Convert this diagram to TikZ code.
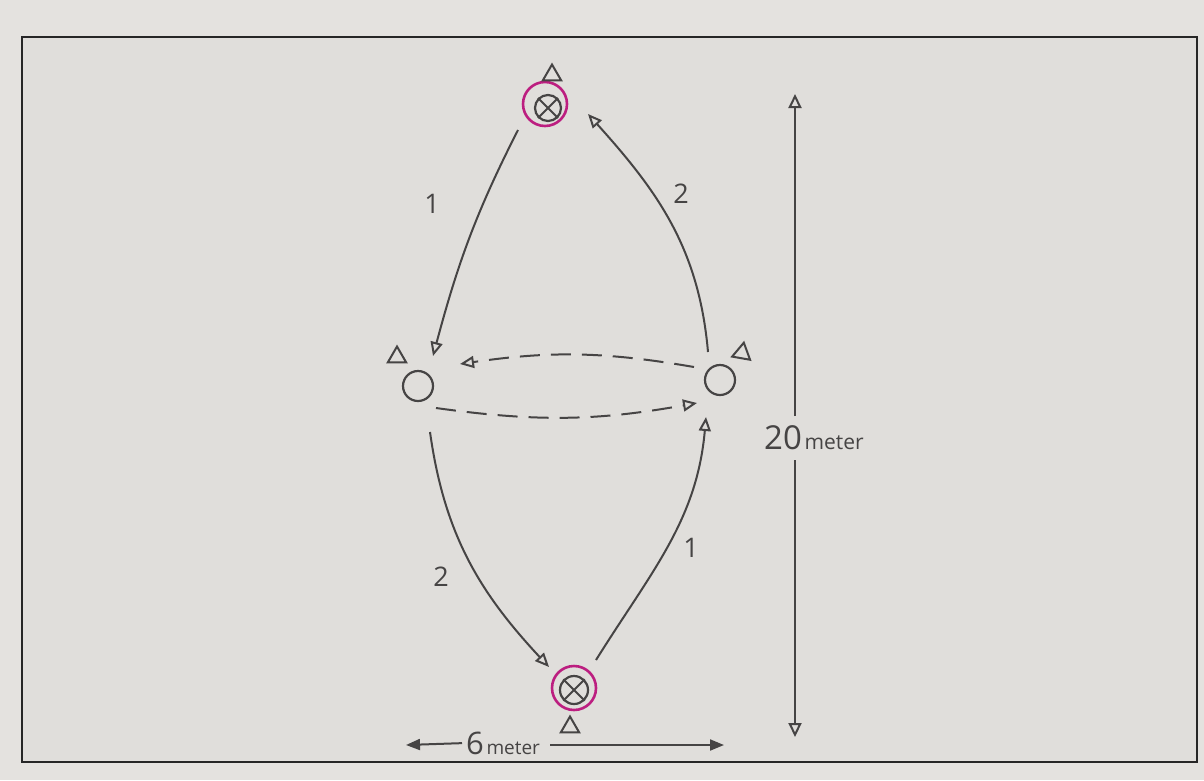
\documentclass[tikz,border=0pt]{standalone}
\usepackage{fontspec}
\setmainfont{Open Sans}
\usetikzlibrary{arrows.meta,shapes.geometric}
\definecolor{paper}{RGB}{228,226,223}
\definecolor{paperin}{RGB}{224,222,219}
\definecolor{pencil}{RGB}{70,68,68}
\definecolor{magentaink}{RGB}{188,30,128}
\begin{document}
\begin{tikzpicture}[x=1pt,y=-1pt,
  pen/.style={draw=pencil,line width=2pt},
  tri/.style={regular polygon,regular polygon sides=3,draw=pencil,line width=2pt,minimum size=21pt,inner sep=0pt},
  player/.style={circle,draw=pencil,line width=2.2pt,minimum size=30pt,inner sep=0pt},
  ring/.style={circle,draw=magentaink,line width=2.6pt,minimum size=44pt,inner sep=0pt},
  pass/.style={pen,-{Triangle[open,length=14pt,width=12pt,line width=2pt]}},
  run/.style={pass,dash pattern=on 20pt off 11pt},
  lbl/.style={text=pencil,font=\fontsize{27}{27}\selectfont},
  dimarrow/.style={pen,-{Triangle[length=14pt,width=11pt]}},
  dimarrowopen/.style={pen,-{Triangle[open,length=14pt,width=13pt,line width=2pt]}}
]
\useasboundingbox (0,0) rectangle (1204,780);
\fill[paper] (0,0) rectangle (1204,780);
\draw[fill=paperin,draw=black!85,line width=1.2pt] (22,37) rectangle (1197,762);

% players
\node[player,minimum size=26pt] (top) at (548,108) {};
\draw[pen] (top.north east) -- (top.south west) (top.north west) -- (top.south east);
\node[ring] (topring) at (545,104) {};
\node[tri] (toptri) at (552,75) {};

\node[player,minimum size=28pt] (bot) at (574,690) {};
\draw[pen] (bot.north east) -- (bot.south west) (bot.north west) -- (bot.south east);
\node[ring] (botring) at (574,688) {};
\node[tri] (bottri) at (570,727) {};

\node[player] (left) at (418,386) {};
\node[tri] (lefttri) at (397,357) {};
\node[player] (right) at (720,380) {};
\node[tri,rotate=-10] (righttri) at (742,353) {};

% connector end points
\coordinate (a1s) at (518,130);
\coordinate (a1e) at (433,356);
\coordinate (a2s) at (708,352);
\coordinate (a2e) at (588,114);
\coordinate (b2s) at (430,432);
\coordinate (b2e) at (549,667);
\coordinate (b1s) at (596,660);
\coordinate (b1e) at (706,417);
\coordinate (d1s) at (694,367);
\coordinate (d1e) at (460,364);
\coordinate (d2s) at (436,408);
\coordinate (d2e) at (697,403);

\draw[pass] (a1s) to[out=243,in=75] (a1e);
\draw[pass] (a2s) to[out=95,in=-48] (a2e);
\draw[pass] (b2s) to[out=-82,in=133] (b2e);
\draw[pass] (b1s) to[out=58,in=-95] (b1e);
\draw[run] (d1s) to[bend right=9] (d1e);
\draw[run] (d2s) to[bend right=9] (d2e);

\node[lbl] (l1a) at (432,204) {1};
\node[lbl] (l2a) at (681,194) {2};
\node[lbl] (l2b) at (441,577) {2};
\node[lbl] (l1b) at (691,548) {1};

% 20 meter dimension
\coordinate (vtop) at (795,94);
\coordinate (vbot) at (795,737);
\coordinate (vgap1) at (795,416);
\coordinate (vgap2) at (795,460);
\node[text=pencil,anchor=west,inner sep=0pt] (dim20) at (764,438) {{\fontsize{33}{33}\selectfont 20} {\fontsize{21}{21}\selectfont meter}};
\draw[dimarrowopen] (vgap1) -- (vtop);
\draw[dimarrowopen] (vgap2) -- (vbot);

% 6 meter dimension
\coordinate (hleft) at (406,745);
\coordinate (hright) at (724,745);
\node[text=pencil,anchor=west,inner sep=0pt] (dim6) at (466,743) {{\fontsize{31}{31}\selectfont 6} {\fontsize{19}{19}\selectfont meter}};
\draw[dimarrow,shorten <=4pt] (dim6.west) -- (hleft);
\coordinate (hstart) at ([xshift=10pt]dim6.east |- hright);
\draw[dimarrow] (hstart) -- (hright);
\end{tikzpicture}
\end{document}
